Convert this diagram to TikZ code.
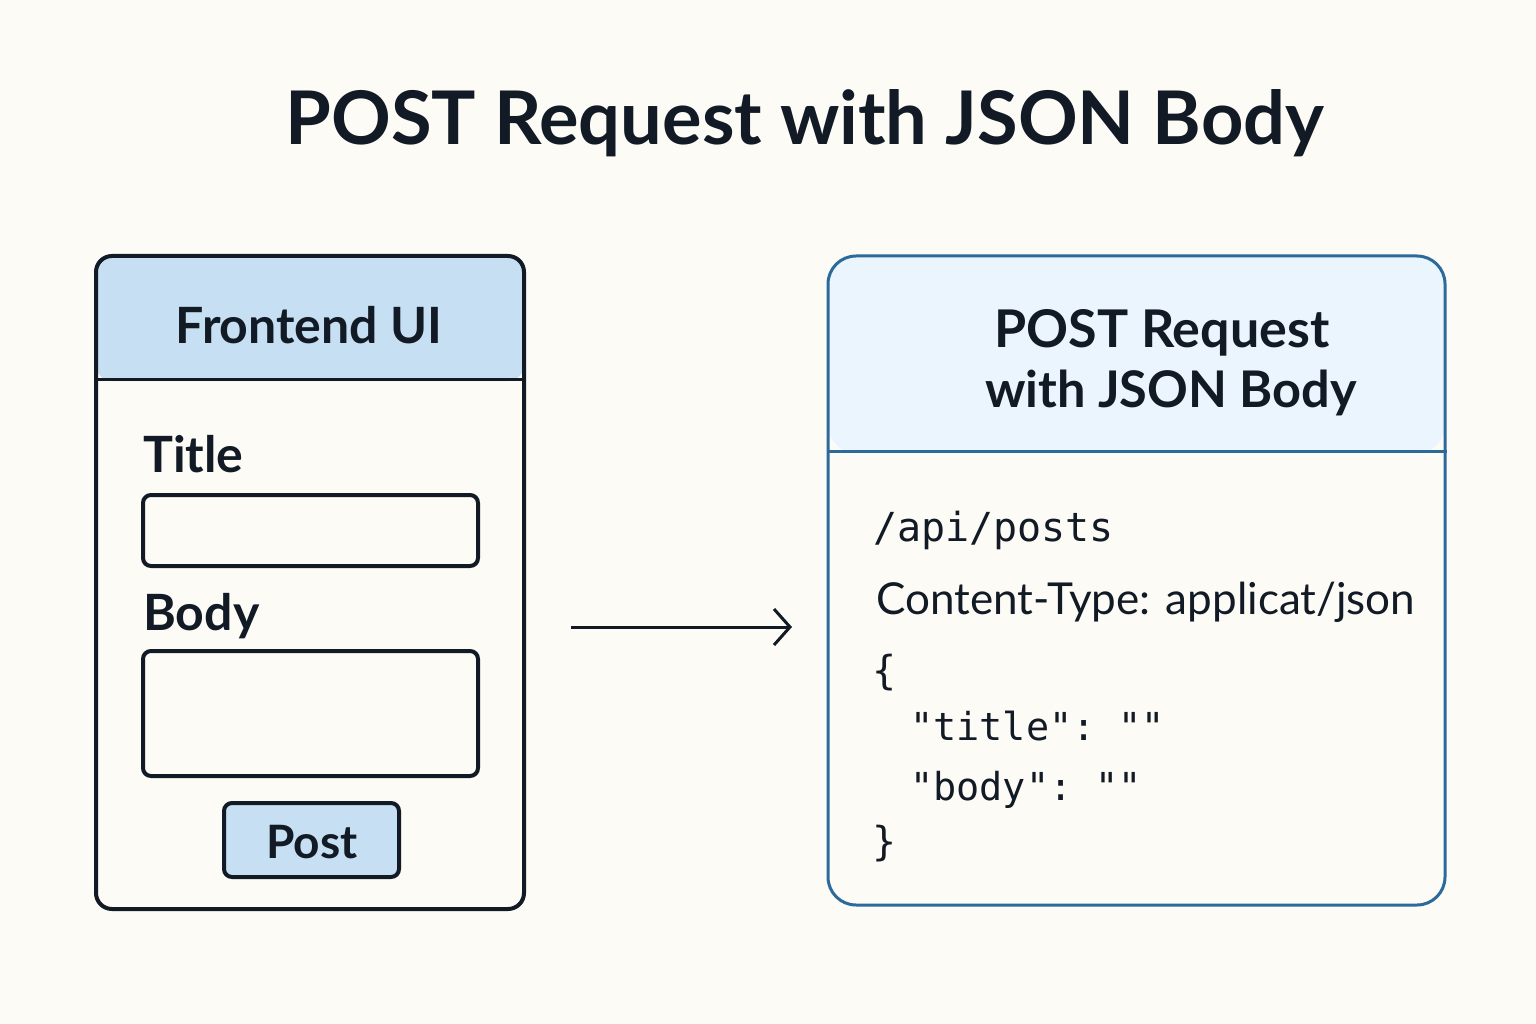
\documentclass[tikz,border=0pt]{standalone}
\usepackage{fontspec}
\setmainfont{Lato}
\setmonofont{DejaVu Sans Mono}
\usetikzlibrary{positioning,arrows.meta}

\definecolor{bgcream}{HTML}{FDFBF6}
\definecolor{inkdark}{HTML}{121B25}
\definecolor{uiblue}{HTML}{C6DFF3}
\definecolor{reqblue}{HTML}{EBF5FE}
\definecolor{reqedge}{HTML}{2B6A9B}

\newcommand{\fsz}[1]{\fontsize{#1}{1.2\dimexpr #1pt\relax}\selectfont}

\begin{document}
\begin{tikzpicture}[x=1pt, y=-1pt, text=inkdark,
	uipanel/.style={draw=inkdark, line width=4pt, rounded corners=16pt, fill=bgcream,
		minimum width=428pt, minimum height=653pt, inner sep=0pt,
		path picture={\fill[uiblue] (path picture bounding box.north west) rectangle ([yshift=-125pt]path picture bounding box.north east);}},
	reqpanel/.style={draw=reqedge, line width=3pt, rounded corners=28pt, fill=bgcream,
		minimum width=617pt, minimum height=649pt, inner sep=0pt,
		path picture={\fill[reqblue] (path picture bounding box.north west) rectangle ([yshift=-197pt]path picture bounding box.north east);}},
	field/.style={draw=inkdark, line width=4pt, rounded corners=8pt, minimum width=335pt, inner sep=0pt},
	button/.style={field, fill=uiblue, minimum width=175pt, minimum height=74pt},
	label/.style={anchor=base west, inner sep=0pt, font=\bfseries\fsz{50}},
	code/.style={anchor=base west, inner sep=0pt, font=\ttfamily\fsz{40}},
	flow/.style={draw=inkdark, line width=3pt, -{Straight Barb[length=16pt,width=36pt]}}
	]
	\fill[bgcream] (0,0) rectangle (1536,1024);
	\useasboundingbox (0,0) rectangle (1536,1024);

	\draw (805,145) node [anchor=base, inner sep=0pt, font=\bfseries\fsz{74}] (heading) {POST Request with JSON Body};

	% frontend form
	\draw (310,582.5) node [uipanel] (ui) {};
	\draw[inkdark, line width=3pt] ([yshift=-125pt]ui.north west) -- ([yshift=-125pt]ui.north east);
	\draw (309,343) node [anchor=base, inner sep=0pt, font=\bfseries\fsz{50}] (uihead) {Frontend UI};
	\draw (143,472) node [label] (titlelbl) {Title};
	\draw (310.5,530.5) node [field, minimum height=71pt] (titlebox) {};
	\draw (143,630) node [label] (bodylbl) {Body};
	\draw (310.5,713.5) node [field, minimum height=125pt] (bodybox) {};
	\draw (311.5,840) node [button] (post) {};
	\draw (312,858) node [anchor=base, inner sep=0pt, font=\bfseries\fsz{46}] (postlbl) {Post};

	% request
	\draw (1136.5,580.5) node [reqpanel] (req) {};
	\draw[reqedge, line width=3pt] ([yshift=-197pt]req.north west) -- ([yshift=-197pt]req.north east);
	\draw (1162,347) node [anchor=base, inner sep=0pt, font=\bfseries\fsz{52}] (reqhead) {POST Request};
	\draw (1171,407) node [anchor=base, inner sep=0pt, font=\bfseries\fsz{50.5}] (reqhead2) {with JSON Body};
	\draw (873,541) node [code] (url) {/api/posts};
	\draw (876,614) node [anchor=base west, inner sep=0pt, font=\fsz{44}] (ctype) {Content-Type: applicat/json};
	\draw (872,684) node [code] (jopen) {\{};
	\draw (910,740) node [code, font=\ttfamily\fsz{38.5}] (jtitle) {"title": ""};
	\draw (910,800) node [code, font=\ttfamily\fsz{38.5}] (jbody) {"body": ""};
	\draw (872,855) node [code] (jclose) {\}};

	\coordinate (send) at (571,627);
	\coordinate (recv) at (792,627);
	\draw (send) edge [flow] (recv);
\end{tikzpicture}
\end{document}
